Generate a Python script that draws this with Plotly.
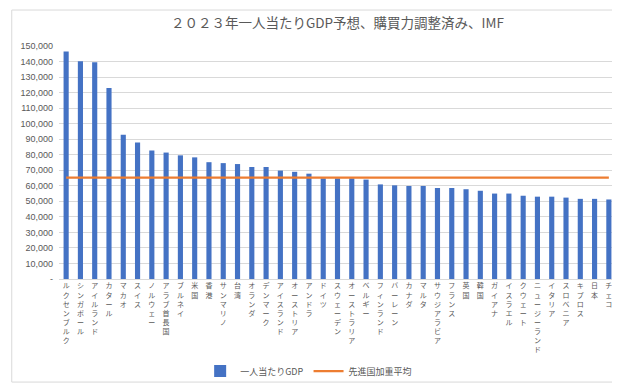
import plotly.graph_objects as go

countries = ["ルクセンブルク", "シンガポール", "アイルランド", "カタール", "マカオ", "スイス",
             "ノルウェー", "アラブ首長国", "ブルネイ", "米国", "香港", "サンマリノ", "台湾",
             "オランダ", "デンマーク", "アイスランド", "オーストリア", "アンドラ", "ドイツ",
             "スウェーデン", "オーストラリア", "ベルギー", "フィンランド", "バーレーン", "カナダ",
             "マルタ", "サウジアラビア", "フランス", "英国", "韓国", "ガイアナ", "イスラエル",
             "クウェート", "ニュージーランド", "イタリア", "スロベニア", "キプロス", "日本", "チェコ"]

gdp_per_capita = [146400, 140200, 139600, 122900, 92800, 87800, 82700, 81400, 79600, 78300,
                  75200, 74600, 74000, 72100, 72100, 69800, 69000, 67800, 64800, 64800,
                  64800, 64000, 60900, 60300, 59900, 59900, 58600, 58600, 57800, 56800,
                  55000, 55000, 53600, 53000, 53000, 52400, 51600, 51600, 51200]

advanced_avg_value = 65200
advanced_avg = [advanced_avg_value] * len(countries)

y_tickvals = list(range(0, 150001, 10000))
y_ticktext = ["-"] + [f"{v:,}" for v in y_tickvals[1:]]

# stacked (vertical) tick text like the original
x_ticktext = ["<br>".join(list(c)) for c in countries]

GRAY = "#595959"
CJK = "Noto Sans CJK JP"

fig = go.Figure()
fig.add_trace(go.Bar(
    x=countries, y=gdp_per_capita, name="一人当たりGDP",
    marker=dict(color="#4472C4", line=dict(width=0)),
))
fig.add_trace(go.Scatter(
    x=countries, y=advanced_avg, name="先進国加重平均", mode="lines",
    line=dict(color="#ED7D31", width=2.3),
))

plot_l, plot_r, plot_t, plot_b = 48, 12, 38, 108
W, H = 620, 389
pw = W - plot_l - plot_r
ph = H - plot_t - plot_b

fig.update_layout(
    width=W, height=H,
    margin=dict(l=plot_l, r=plot_r, t=plot_t, b=plot_b),
    paper_bgcolor="white", plot_bgcolor="white",
    bargap=0.64,
    title=dict(text="２０２３年一人当たりGDP予想、購買力調整済み、IMF",
               x=0.5, xref="paper", xanchor="center",
               y=1 - 15 / H, yref="container", yanchor="middle",
               font=dict(family=CJK, size=13.5, color=GRAY)),
    xaxis=dict(
        type="category", range=[-0.5, len(countries) - 0.5],
        tickmode="array", tickvals=countries, ticktext=x_ticktext,
        tickangle=0, tickfont=dict(family=CJK, size=7, color=GRAY),
        showgrid=False, showline=True, linecolor="#D9D9D9", linewidth=1,
        ticks="", fixedrange=True,
    ),
    yaxis=dict(
        range=[0, 150000], tickmode="array", tickvals=y_tickvals, ticktext=y_ticktext,
        tickfont=dict(family="Liberation Sans, Arial", size=9, color=GRAY),
        showgrid=True, gridcolor="#D9D9D9", gridwidth=1, zeroline=False,
        showline=False, ticks="", ticklabelstandoff=5,
    ),
    legend=dict(
        orientation="h", x=(299 - plot_l) / pw, xanchor="center",
        y=(H - plot_b - 377) / ph, yanchor="middle",
        font=dict(family=CJK, size=9, color=GRAY),
        bgcolor="rgba(0,0,0,0)", itemwidth=30,
    ),
    showlegend=True,
    shapes=[dict(
        type="rect", xref="paper", yref="paper",
        x0=(0.5 - plot_l) / pw, x1=(W - 0.5 - plot_l) / pw,
        y0=(H - plot_b - (H - 0.5)) / ph, y1=(H - plot_b - 0.5) / ph,
        line=dict(color="#D9D9D9", width=1), fillcolor="rgba(0,0,0,0)", layer="below",
    )],
)

fig.write_html("out.html")
